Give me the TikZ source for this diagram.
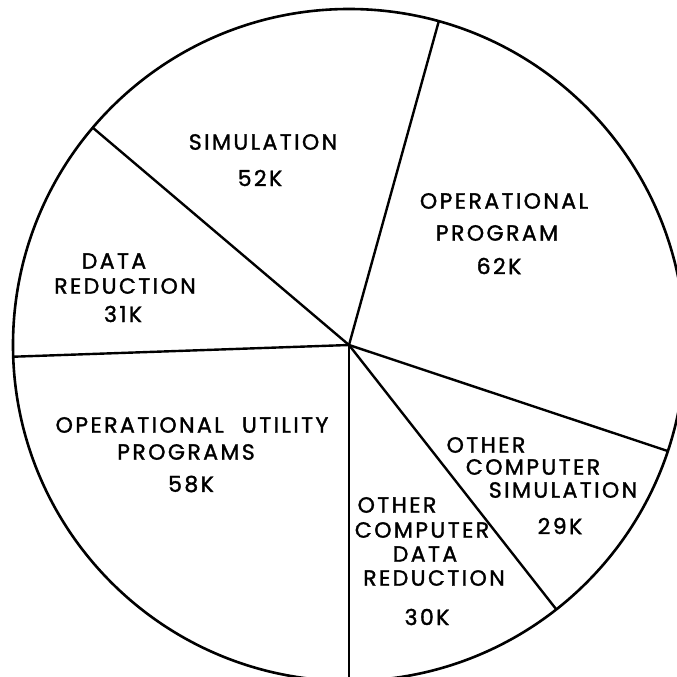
\documentclass[tikz,border=0pt]{standalone}
\usepackage{fontspec}
\setmainfont{Poppins}[LetterSpace=11,WordSpace=2.2,FakeBold=1.5]

\begin{document}
\begin{tikzpicture}[x=1pt,y=1pt,
  every node/.append style={inner sep=0pt,font=\fontsize{22}{26}\selectfont},
  rim/.style={line width=2.6pt},
  spoke/.style={line width=2.4pt}]

  \clip (-349,-332) rectangle (328,345);

  % pie and its six slices
  \coordinate (c) at (0,0);
  \draw [rim] (c) circle (336);
  \foreach \a [count=\i] in {74.5,139.7,182,270,308.1,341.6} {
    \coordinate (r\i) at (\a:336);
    \draw [spoke] (c) -- (r\i);
  }

  % labels
  \node (sim) at (-86,203) {SIMULATION};
  \node (simk) at (-89,167) {52K};

  \node (op1) at (155,144) {OPERATIONAL};
  \node (op2) at (148,112) {PROGRAM};
  \node (opk) at (150,79) {62K};

  \node (dr1) at (-235,84) {DATA};
  \node (dr2) at (-224,59) {REDUCTION};
  \node (drk) at (-226,31) {31K};

  \node (ou1) at (-157,-80) {OPERATIONAL UTILITY};
  \node (ou2) at (-163,-107) {PROGRAMS};
  \node (ouk) at (-158,-139) {58K};

  \node (os1) at (137,-100) {OTHER};
  \node (os2) at (184,-122) {COMPUTER};
  \node (os3) at (214,-145) {SIMULATION};
  \node (osk) at (211,-181) {29K};

  \node (od1) at (48,-160) {OTHER};
  \node (od2) at (73,-185) {COMPUTER};
  \node (od3) at (76,-209) {DATA};
  \node (od4) at (85,-233) {REDUCTION};
  \node (odk) at (78,-272) {30K};
\end{tikzpicture}
\end{document}
